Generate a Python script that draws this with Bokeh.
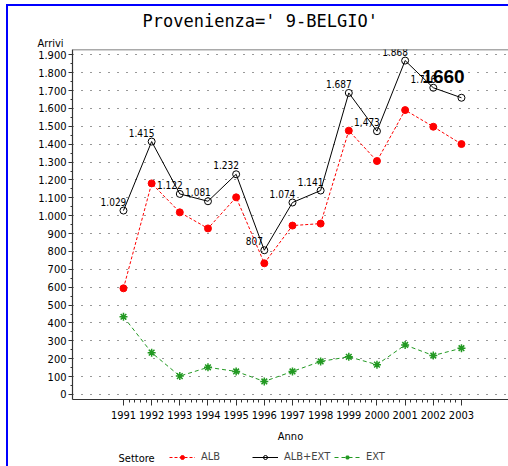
from bokeh.plotting import figure
from bokeh.layouts import column
from bokeh.models import (ColumnDataSource, FixedTicker, Span, Label, LabelSet,
                          Legend, LegendItem, Range1d, Title)
from bokeh.embed import file_html
from bokeh.resources import INLINE
from bokeh.core.properties import value

# ---- data ----
anni = [1991, 1992, 1993, 1994, 1995, 1996, 1997, 1998, 1999, 2000, 2001, 2002, 2003]
alb = [594, 1181, 1019, 929, 1103, 734, 945, 956, 1476, 1306, 1591, 1498, 1401]
alb_ext = [1029, 1415, 1122, 1081, 1232, 807, 1074, 1141, 1687, 1473, 1868, 1716, 1660]
ext = [435, 234, 103, 152, 129, 73, 129, 185, 211, 167, 277, 218, 259]
y_ticks = list(range(0, 2000, 100))
series_names = ["ALB", "ALB+EXT", "EXT"]
title_text = "Provenienza=' 9-BELGIO'"


def fmt(v):
    return f"{int(v):,}".replace(",", ".")


NARROW = "Liberation Sans Narrow, DejaVu Sans Condensed, sans-serif"
RED = "#ff0000"
GREEN = "#229922"
NAN = float("nan")

W = 508
LEG_H = 20
p = figure(width=W, height=466 - LEG_H,
           x_range=Range1d(1989.19, 2004.67), y_range=Range1d(-28, 1930),
           output_backend="svg", toolbar_location=None,
           min_border_left=72, min_border_right=0, min_border_top=49, min_border_bottom=47)
p.outline_line_color = None
p.background_fill_color = "white"
p.border_fill_color = "white"

# titles
p.title = Title(text=title_text, align="left", offset=70, standoff=8,
                text_font="DejaVu Sans Mono", text_font_size="17px",
                text_font_style="normal", text_color="black")
p.add_layout(Title(text="Arrivi", align="left", offset=-35, standoff=0,
                   text_font=NARROW, text_font_size="11px", text_font_style="normal",
                   text_color="black"), "above")

# axes
minor_x = [1991 + k * 0.2 for k in range(0, 61)]
p.xaxis.ticker = FixedTicker(ticks=anni, minor_ticks=minor_x)
p.xaxis.major_label_overrides = {a: str(a) for a in anni}
p.yaxis.ticker = FixedTicker(ticks=y_ticks, minor_ticks=list(range(0, 1950, 50)))
p.yaxis.major_label_overrides = {t: fmt(t) for t in y_ticks}

for ax in (p.xaxis[0], p.yaxis[0]):
    ax.axis_line_color = "#333333"
    ax.axis_line_width = 1.2
    ax.major_tick_line_color = "#333333"
    ax.minor_tick_line_color = "#333333"
    ax.major_tick_in = 0
    ax.minor_tick_in = 0
    ax.major_label_text_font = NARROW
    ax.major_label_text_font_size = "11px"
    ax.major_label_text_color = "black"

p.xaxis.major_tick_out = 6
p.xaxis.minor_tick_out = 3
p.xaxis.major_label_standoff = 5
p.xaxis.axis_label = "Anno"
p.xaxis.axis_label_standoff = 8
p.xaxis.axis_label_text_font = NARROW
p.xaxis.axis_label_text_font_size = "11px"
p.xaxis.axis_label_text_font_style = "normal"
p.xaxis.axis_label_text_color = "black"
p.yaxis.major_tick_out = 4
p.yaxis.minor_tick_out = 2
p.yaxis.major_label_standoff = 2

p.xgrid.visible = False
p.ygrid.grid_line_color = "#333333"
p.ygrid.grid_line_dash = "1 8"
p.ygrid.grid_line_width = 1

p.add_layout(Span(location=1930, dimension="width", line_color="#555555", line_width=1.5))

# series
styles = {
    "ALB": dict(line=dict(line_color=RED, line_dash="3 2", line_width=1),
                mark=dict(marker="circle", size=7, fill_color=RED, line_color=RED)),
    "ALB+EXT": dict(line=dict(line_color="black", line_width=1),
                    mark=dict(marker="circle", size=7, fill_color=None, line_color="black", line_width=1)),
    "EXT": dict(line=dict(line_color=GREEN, line_dash="4 3", line_width=1),
                mark=dict(marker="asterisk", size=8, line_color=GREEN, line_width=1.5)),
}
for name, vals in (("ALB", alb), ("EXT", ext), ("ALB+EXT", alb_ext)):
    p.line(anni, vals, **styles[name]["line"])
    p.scatter(anni, vals, **styles[name]["mark"])

# value labels
lab_src = ColumnDataSource(dict(x=anni[:-1], y=alb_ext[:-1], t=[fmt(v) for v in alb_ext[:-1]]))
p.add_layout(LabelSet(x="x", y="y", text="t", source=lab_src, x_offset=-10, y_offset=9,
                      text_align="center", text_baseline="middle",
                      text_font=value(NARROW), text_font_size="10px", text_color="black"))
p.add_layout(Label(x=anni[-1], y=alb_ext[-1], text=str(alb_ext[-1]), x_offset=-18, y_offset=21,
                   text_align="center", text_baseline="middle", text_font="Liberation Sans",
                   text_font_style="bold", text_font_size="19px", text_color="black"))

# legend strip (its frame is aligned with the main frame, starting at x=72)
q = figure(width=W, height=LEG_H, x_range=Range1d(0, 1), y_range=Range1d(0, 1),
           output_backend="svg", toolbar_location=None,
           min_border_left=0, min_border_right=0, min_border_top=0, min_border_bottom=0)
q.axis.visible = False
q.grid.visible = False
q.outline_line_color = None
q.border_fill_color = "white"
q.add_layout(Label(x=46, y=8, x_units="screen", y_units="screen", text="Settore",
                   text_align="left", text_baseline="middle", text_font=NARROW,
                   text_font_size="11px", text_color="black"))
for name, lx in zip(series_names, (97, 180, 262)):
    lr = q.line(x=[NAN], y=[NAN], **styles[name]["line"])
    ls = q.scatter(x=[NAN], y=[NAN], **styles[name]["mark"])
    q.add_layout(Legend(items=[LegendItem(label=name, renderers=[lr, ls])],
                        location=(lx, 3), orientation="horizontal", padding=0, margin=0,
                        glyph_width=26, glyph_height=10, label_height=10, label_standoff=6,
                        label_text_font=NARROW, label_text_font_size="11px",
                        background_fill_alpha=0, border_line_color=None))

frame_css = (":host { position: relative; }"
             ":host::after { content: ''; position: absolute; left: 6px; top: 4px;"
             " width: calc(100% - 6px); height: calc(100% - 4px);"
             " border-left: 2px solid #0000ff; border-top: 2px solid #0000ff;"
             " box-sizing: border-box; pointer-events: none; z-index: 10; }")
layout = column(p, q, spacing=0, stylesheets=[frame_css])
open("out.html", "w").write(file_html(layout, INLINE))
